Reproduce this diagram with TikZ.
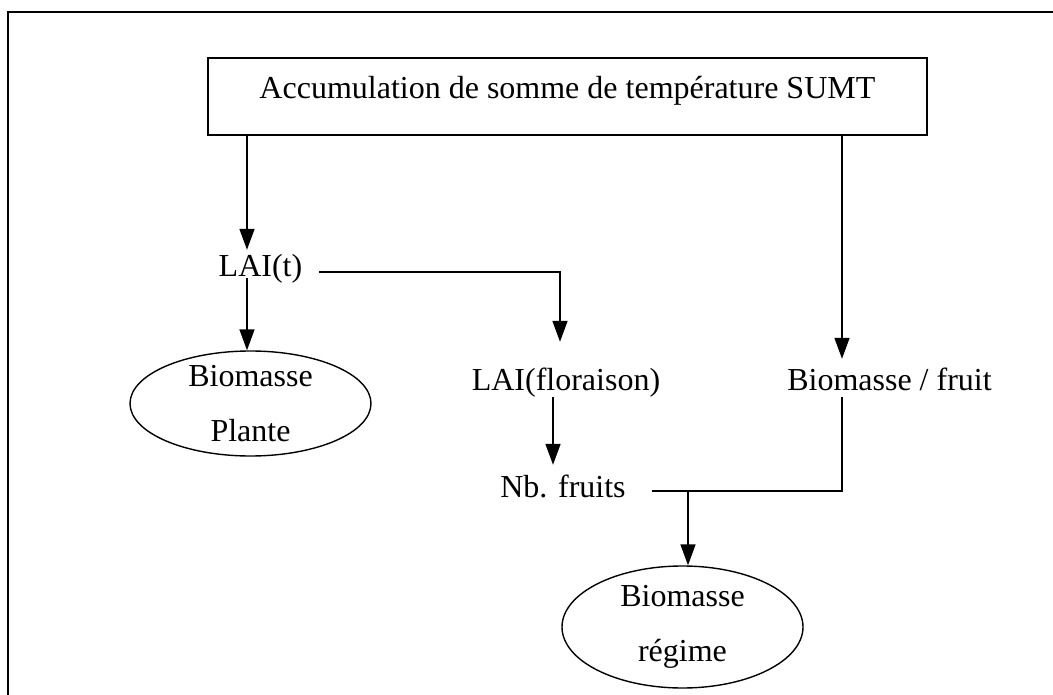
\documentclass[tikz,border=0pt]{standalone}
\usepackage{fontspec}
\setmainfont{Liberation Serif}
\usetikzlibrary{arrows.meta,shapes.geometric}
\begin{document}
\begin{tikzpicture}[x=1pt,y=-1pt,
  txt/.style={font=\fontsize{32}{55}\selectfont, inner sep=0pt},
  conn/.style={line width=1.6pt},
  arr/.style={conn, -{Triangle[length=21pt,width=15pt]}},
  ell/.style={ellipse, draw, line width=1.4pt, txt, align=center,
    inner xsep=0pt, inner ysep=-5pt, minimum width=241pt}]
\useasboundingbox (0,0) rectangle (1053,695);
% outer frame (only top and left edges visible)
\draw[line width=2pt] (8,695) -- (8,12) -- (1053,12);
% nodes
\node[draw, line width=1.8pt, txt, minimum width=719pt, minimum height=77pt,
  text height=22pt, text depth=17.4pt] (top) at (567.4,96.2)
  {Accumulation de somme de température SUMT};
\node[txt, anchor=base, text height=27pt, text depth=1pt, inner xsep=17pt]
  (lait) at (260.5,277) {LAI(t)};
\node[txt, anchor=base, text height=48pt, text depth=7pt]
  (laif) at (566,390) {LAI(floraison)};
\node[txt, anchor=base, text height=31pt, text depth=7pt]
  (bf) at (889.5,390) {Biomasse / fruit};
\node[txt, anchor=base, text height=32pt, text depth=1pt, inner xsep=26pt]
  (nbf) at (563,497) {Nb. fruits};
\node[ell, minimum height=105pt] (e1) at (250.5,403.5) {Biomasse\\Plante};
\node[ell, minimum height=122pt] (e2) at (682.5,627) {Biomasse\\régime};
% helper coordinates for connector columns and junctions
\coordinate (xa) at (247,0);
\coordinate (h1) at (560,272);
\coordinate (v4) at (553,0);
\coordinate (j) at (842,491);
\coordinate (k) at (688,491);
% connectors
\draw[arr] (top.south -| xa) -- (xa |- lait.north);
\draw[arr] (xa |- lait.south) -- (xa |- e1.north);
\draw[arr] (lait.east |- h1) -- (h1) -- (h1 |- laif.north);
\draw[arr] (v4 |- laif.south) -- (v4 |- nbf.north);
\draw[arr] (top.south -| j) -- (j |- bf.north);
\draw[conn] (nbf.east |- j) -- (j) -- (j |- bf.south);
\draw[arr] (k) -- (k |- e2.north);
\end{tikzpicture}
\end{document}
